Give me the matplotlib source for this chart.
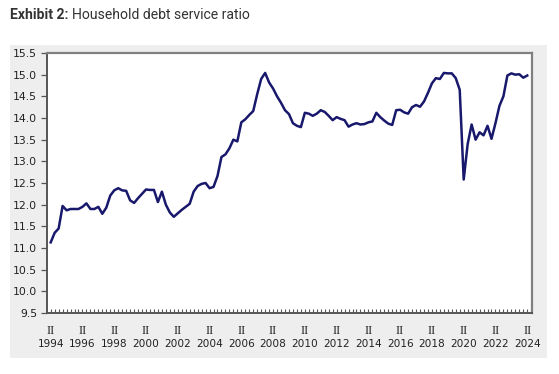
import matplotlib
matplotlib.use("Agg")
import matplotlib.pyplot as plt
from matplotlib.patches import Rectangle
from matplotlib.ticker import FixedLocator

# ---- data: household debt service ratio, quarterly 1994Q2 .. 2024Q2 ----
start_year = 1994
start_quarter = 2
dsr = [
    11.13, 11.35, 11.45, 11.97, 11.87, 11.90, 11.90, 11.90, 11.95, 12.03,
    11.90, 11.90, 11.95, 11.79, 11.93, 12.21, 12.33, 12.38, 12.33, 12.32,
    12.10, 12.04, 12.15, 12.25, 12.35, 12.34, 12.34, 12.06, 12.30, 12.00,
    11.82, 11.72, 11.80, 11.88, 11.95, 12.02, 12.30, 12.43, 12.48, 12.50,
    12.38, 12.41, 12.66, 13.10, 13.16, 13.30, 13.50, 13.46, 13.90, 13.97,
    14.07, 14.16, 14.55, 14.90, 15.04, 14.82, 14.68, 14.50, 14.35, 14.18,
    14.09, 13.88, 13.82, 13.79, 14.12, 14.10, 14.05, 14.10, 14.18, 14.14,
    14.05, 13.95, 14.02, 13.98, 13.95, 13.80, 13.85, 13.88, 13.85, 13.86,
    13.90, 13.92, 14.12, 14.02, 13.94, 13.87, 13.84, 14.18, 14.19, 14.13,
    14.10, 14.25, 14.30, 14.26, 14.38, 14.58, 14.80, 14.92, 14.90, 15.04,
    15.03, 15.03, 14.92, 14.65, 12.58, 13.40, 13.85, 13.50, 13.67, 13.60,
    13.82, 13.52, 13.88, 14.28, 14.50, 14.98, 15.03, 15.00, 15.01, 14.93,
    14.98,
]
tick_years = [1994, 1996, 1998, 2000, 2002, 2004, 2006, 2008, 2010, 2012,
              2014, 2016, 2018, 2020, 2022, 2024]
tick_quarter_label = "II"
y_ticks = [9.5, 10.0, 10.5, 11.0, 11.5, 12.0, 12.5, 13.0, 13.5, 14.0, 14.5, 15.0, 15.5]

# quarter index relative to 1994Q2
x = list(range(len(dsr)))
def qidx(year, q=2):
    return (year - start_year) * 4 + (q - start_quarter)

W, H = 559, 374
fig = plt.figure(figsize=(W / 100, H / 100), dpi=100)
fig.patch.set_facecolor("white")

# grey panel behind chart
panel = Rectangle((10 / W, 1 - 358 / H), (547 - 10) / W, (358 - 45) / H,
                  transform=fig.transFigure, facecolor="#eeeeee",
                  edgecolor="none", zorder=-10)
fig.add_artist(panel)

ax = fig.add_axes([47 / W, 1 - 313 / H, (532 - 47) / W, (313 - 53) / H])
ax.set_zorder(5)
ax.set_facecolor("white")
ax.plot(x, dsr, color="#18186c", lw=1.8, solid_joinstyle="round", zorder=3)

ax.set_xlim(-0.93, 121.2)
ax.set_ylim(9.5, 15.5)

for s in ["top", "right"]:
    ax.spines[s].set_color("#808080")
    ax.spines[s].set_linewidth(1.6)
for s in ["left", "bottom"]:
    ax.spines[s].set_color("#555555")
    ax.spines[s].set_linewidth(1.4)

ax.set_yticks(y_ticks)
ax.set_yticklabels([f"{v:.1f}" for v in y_ticks], fontsize=7.8, color="#222222",
                   family="DejaVu Sans")
ax.tick_params(axis="y", direction="out", length=4, width=0.9, color="#555555", pad=3)

# quarterly minor ticks along the bottom
ax.xaxis.set_major_locator(FixedLocator([qidx(y) for y in tick_years]))
ax.set_xticklabels([str(y) for y in tick_years], fontsize=7.6, color="#222222",
                   family="DejaVu Sans")
ax.xaxis.set_minor_locator(FixedLocator(list(range(-1, len(dsr) + 1))))
ax.tick_params(axis="x", which="both", direction="in", length=3, width=0.8,
               color="#555555")
ax.tick_params(axis="x", which="major", pad=18.5)

for yr in tick_years:
    ax.annotate(tick_quarter_label, xy=(qidx(yr), 0), xycoords=("data", "axes fraction"),
                xytext=(0, -13), textcoords="offset points", ha="center", va="center",
                fontsize=9, family="Liberation Serif", color="#222222",
                annotation_clip=False)

fig.text(10 / W, 1 - 15 / H, "Exhibit 2:", fontsize=10.1, fontweight="bold",
         family="Roboto", color="#333333", va="center", ha="left")
fig.text(72 / W, 1 - 15 / H, "Household debt service ratio", fontsize=10.1,
         family="Roboto", color="#333333", va="center", ha="left")

fig.savefig("out.png", dpi=100, facecolor="white")
